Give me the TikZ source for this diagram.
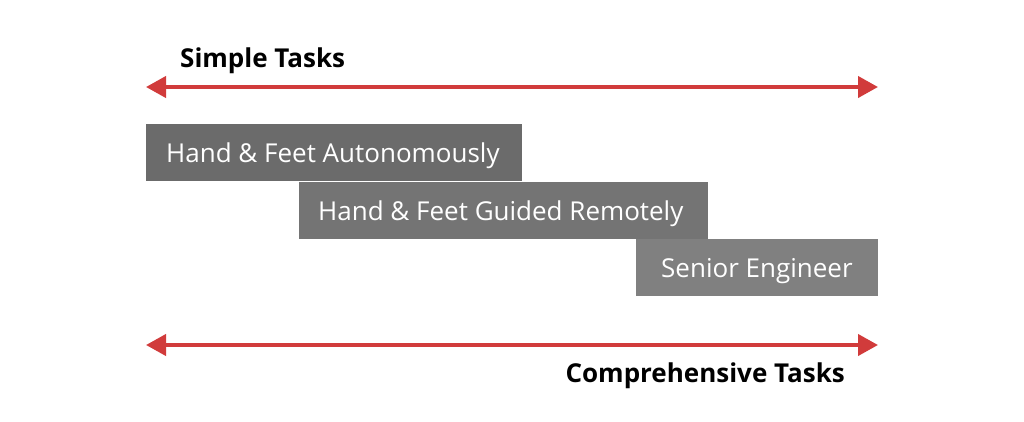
\documentclass[tikz,border=0pt]{standalone}
\usepackage{fontspec}
\setmainfont{Open Sans}
\usetikzlibrary{arrows.meta}
\definecolor{arrred}{HTML}{D13B3B}
\definecolor{boxA}{HTML}{6B6B6B}
\definecolor{boxB}{HTML}{747474}
\definecolor{boxC}{HTML}{808080}
\tikzset{
  axis/.style={draw=arrred, line width=4pt, {Triangle[length=20pt,width=21pt]}-{Triangle[length=20pt,width=21pt]}},
  bar/.style={anchor=north west, inner sep=0pt, outer sep=0pt},
  bartext/.style={text=white, font=\fontsize{26}{30}\selectfont, inner sep=0pt, anchor=base west},
  heading/.style={font=\bfseries\fontsize{26}{30}\selectfont, inner sep=0pt, text=black}
}
\begin{document}
\begin{tikzpicture}[x=1pt,y=-1pt]
\useasboundingbox[fill=white] (0,0) rectangle (1024,421);
% top axis
\coordinate (tl) at (146,87);
\coordinate (tr) at (878,87);
\draw[axis] (tl) -- (tr);
\node[heading, anchor=base west] (simple) at (180,67) {Simple Tasks};
% bars
\node[bar, fill=boxA, minimum width=376pt, minimum height=57pt] (b1) at (146,124) {};
\node[bar, fill=boxB, minimum width=409pt, minimum height=57pt] (b2) at (299,182) {};
\node[bar, fill=boxC, minimum width=242pt, minimum height=57pt] (b3) at (636,239) {};
\node[bartext] (t1) at (166,162) {Hand \& Feet Autonomously};
\node[bartext] (t2) at (318,220) {Hand \& Feet Guided Remotely};
\node[bartext] (t3) at (661,277) {Senior Engineer};
% bottom axis
\coordinate (bl) at (146,345);
\coordinate (br) at (878,345);
\draw[axis] (bl) -- (br);
\node[heading, anchor=base east] (comp) at (845,382) {Comprehensive Tasks};
\end{tikzpicture}
\end{document}
